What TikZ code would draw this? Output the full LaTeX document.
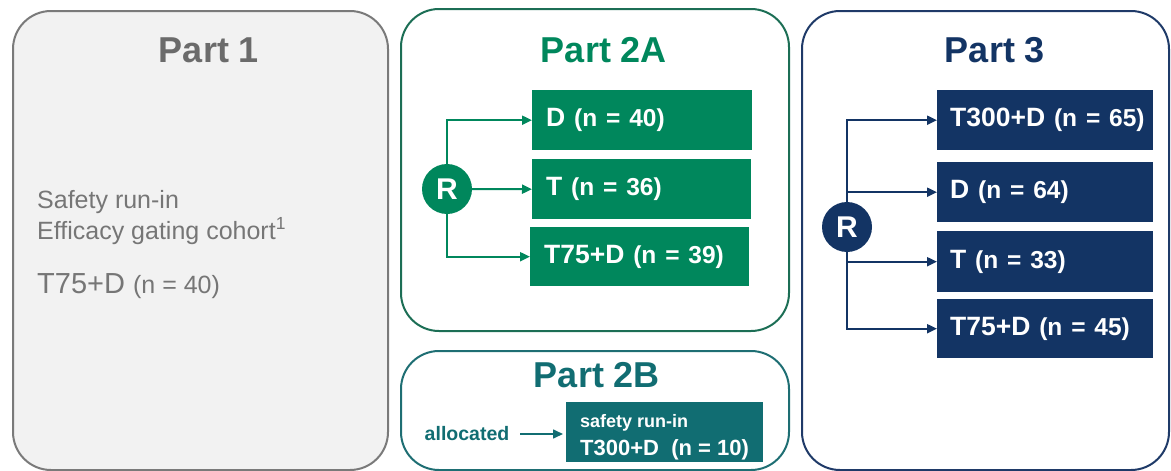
\documentclass[tikz,border=0pt]{standalone}
\usepackage{fontspec}
\setmainfont{Liberation Sans}
\usetikzlibrary{arrows.meta}
\definecolor{greyline}{HTML}{7A7A7A}
\definecolor{greyfill}{HTML}{F2F2F2}
\definecolor{greytext}{HTML}{767676}
\definecolor{greytitle}{HTML}{6B6B6B}
\definecolor{armgreen}{HTML}{00875C}
\definecolor{greenline}{HTML}{1C6E55}
\definecolor{armteal}{HTML}{116D72}
\definecolor{tealline}{HTML}{1E6E73}
\definecolor{armnavy}{HTML}{133464}
\definecolor{navyline}{HTML}{1F3A68}
\tikzset{
  panel/.style={draw=#1, line width=2pt, rounded corners=38pt, anchor=north west, inner sep=0pt},
  title/.style={text=#1, font=\fontsize{36}{42}\selectfont\bfseries, anchor=base},
  arm/.style={fill=#1, text=white, anchor=north west, inner xsep=14pt, inner ysep=0pt,
    font=\fontsize{26.5}{32}\selectfont\bfseries, align=left},
  rnode/.style={circle, fill=#1, text=white, minimum size=50pt, inner sep=0pt,
    font=\fontsize{30}{34}\selectfont\bfseries},
  arr/.style={draw=#1, line width=2pt, -{Triangle[length=10pt,width=9pt]}},
  plain/.style={anchor=base west, inner sep=0pt},
}
% arm label: treatment name followed by a slightly smaller count, kept on one line
\newcommand{\armlabel}[2]{\mbox{#1 {\fontsize{24.5}{30}\selectfont #2}}}
\begin{document}
\begin{tikzpicture}[x=1pt,y=-1pt]
\useasboundingbox (0,0) rectangle (1171,471);

% ---- Part 1 ----
\node[panel=greyline, fill=greyfill, minimum width=375pt, minimum height=459pt] (p1) at (12,10) {};
\node[title=greytitle] (t1) at (209,62) {Part 1};
\node[plain, text=greytext, font=\fontsize{25}{30}\selectfont] (s1) at (37,208) {Safety run-in};
\node[plain, text=greytext, font=\fontsize{25}{30}\selectfont] (s2) at (37,239) {Efficacy gating cohort\textsuperscript{1}};
\node[plain, text=greytext] (c1) at (37,293)
  {\fontsize{29}{34}\selectfont T75+D \fontsize{25}{30}\selectfont(n = 40)};

% ---- Part 2A ----
\node[panel=greenline, minimum width=388pt, minimum height=322pt] (p2a) at (400,8) {};
\node[title=armgreen] (t2a) at (604,62) {Part 2A};
\node[arm=armgreen, text width=192pt, minimum height=60pt] (a1) at (532,90) {\armlabel{D}{(n = 40)}};
\node[arm=armgreen, text width=191pt, minimum height=60pt] (a2) at (532,159) {\armlabel{T}{(n = 36)}};
\node[arm=armgreen, text width=191pt, minimum height=59pt] (a3) at (530,227) {\armlabel{T75+D}{(n = 39)}};
\node[rnode=armgreen] (r2) at (447,189) {R};
\draw[arr=armgreen] (r2.north) |- (a1.west);
\draw[arr=armgreen] (r2.east) -- (a2.west);
\draw[arr=armgreen] (r2.south) |- (a3.west);

% ---- Part 2B ----
\node[panel=tealline, minimum width=388pt, minimum height=119pt] (p2b) at (400,350) {};
\node[title=armteal] (t2b) at (597,387) {Part 2B};
\node[fill=armteal, anchor=north west, minimum width=197pt, minimum height=60pt, inner sep=0pt] (b1) at (566,402) {};
\node[plain, text=white, font=\fontsize{18}{22}\selectfont\bfseries] (b1a) at (580,427) {safety run-in};
\node[plain, text=white, font=\fontsize{22}{26}\selectfont\bfseries] (b1b) at (580,455) {T300+D\ \ (n = 10)};
\node[text=armteal, font=\fontsize{19.5}{24}\selectfont\bfseries, inner sep=0pt] (al) at (467,434) {allocated};
\draw[arr=armteal, line width=1.6pt, shorten <=11pt, shorten >=3pt] (al.east) -- (al.east -| b1.west);

% ---- Part 3 ----
\node[panel=navyline, minimum width=367pt, minimum height=459pt] (p3) at (801,10) {};
\node[title=armnavy] (t3) at (995,62) {Part 3};
\node[arm=armnavy, text width=190pt, minimum height=60pt, inner xsep=13pt] (n1) at (937,90) {\armlabel{T300+D}{(n = 65)}};
\node[arm=armnavy, text width=190pt, minimum height=60pt, inner xsep=13pt] (n2) at (937,162) {\armlabel{D}{(n = 64)}};
\node[arm=armnavy, text width=190pt, minimum height=61pt, inner xsep=13pt] (n3) at (937,231) {\armlabel{T}{(n = 33)}};
\node[arm=armnavy, text width=190pt, minimum height=59pt, inner xsep=13pt] (n4) at (937,299) {\armlabel{T75+D}{(n = 45)}};
\node[rnode=armnavy] (r3) at (847,227) {R};
\draw[arr=armnavy] (r3.north) |- (n1.west);
\draw[arr=armnavy] (r3.north) |- (n2.west);
\draw[arr=armnavy] (r3.south) |- (n3.west);
\draw[arr=armnavy] (r3.south) |- (n4.west);
\end{tikzpicture}
\end{document}
